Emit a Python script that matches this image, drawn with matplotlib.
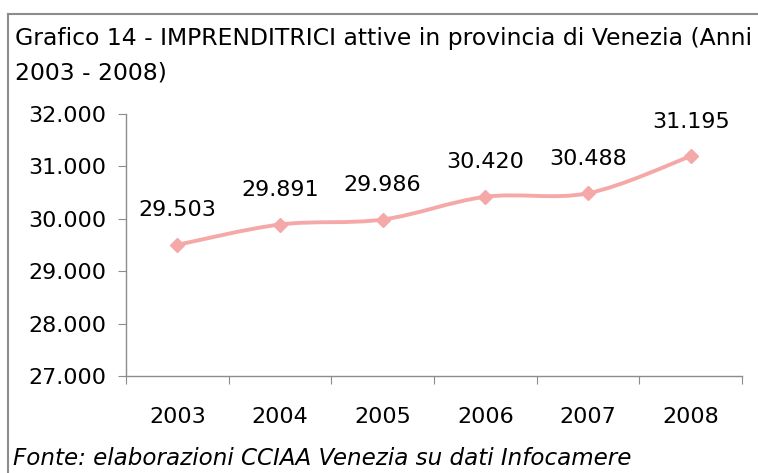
import matplotlib
matplotlib.use('Agg')
import matplotlib.pyplot as plt
from matplotlib.path import Path
from matplotlib.patches import PathPatch
from matplotlib.lines import Line2D

years = ['2003', '2004', '2005', '2006', '2007', '2008']
imprenditrici = [29503, 29891, 29986, 30420, 30488, 31195]
y_ticks = [27000, 28000, 29000, 30000, 31000, 32000]

title_lines = ['Grafico 14 - IMPRENDITRICI attive in provincia di Venezia (Anni',
               '2003 - 2008)']
source = 'Fonte: elaborazioni CCIAA Venezia su dati Infocamere'

pink = '#F5A8A8'
grey = '#8C8C8C'

plt.rcParams['font.family'] = ['DejaVu Sans']


def fmt(v):
    return f'{v:,.0f}'.replace(',', '.')


fig = plt.figure(figsize=(7.58, 4.73), dpi=100)
ax = fig.add_axes([126 / 758, 1 - 376 / 473, 616 / 758, 262 / 473])

# smoothed line like Excel (bezier segments between the data points)
xs = list(range(len(years)))
ys = imprenditrici
verts = [(xs[0], ys[0])]
codes = [Path.MOVETO]
for i in range(len(xs) - 1):
    x0, y0 = xs[max(i - 1, 0)], ys[max(i - 1, 0)]
    x1, y1 = xs[i], ys[i]
    x2, y2 = xs[i + 1], ys[i + 1]
    x3, y3 = xs[min(i + 2, len(xs) - 1)], ys[min(i + 2, len(xs) - 1)]
    verts += [(x1 + (x2 - x0) / 6, y1 + (y2 - y0) / 6),
              (x2 - (x3 - x1) / 6, y2 - (y3 - y1) / 6),
              (x2, y2)]
    codes += [Path.CURVE4] * 3
ax.add_patch(PathPatch(Path(verts, codes), facecolor='none', edgecolor=pink,
                       lw=2.8, capstyle='round'))
ax.plot(xs, ys, ls='none', marker='D', ms=7.5, color=pink, zorder=3)

for x, y in zip(xs, ys):
    ax.annotate(fmt(y), (x, y), xytext=(0, 20.5), textcoords='offset points',
                ha='center', va='baseline', fontsize=16)

ax.set_xlim(-0.5, len(years) - 0.5)
ax.set_ylim(27000, 32000)
ax.set_yticks(y_ticks)
ax.set_yticklabels([fmt(v) for v in y_ticks], fontsize=16)
ax.set_xticks([i - 0.5 for i in range(len(years) + 1)])
ax.set_xticklabels([])
ax.set_xticks(xs, minor=True)
ax.set_xticklabels(years, minor=True, fontsize=16)
ax.tick_params(axis='x', which='major', length=6, color=grey, direction='out')
ax.tick_params(axis='x', which='minor', length=0, pad=22)
ax.tick_params(axis='y', length=6, color=grey, pad=8)

for s in ['top', 'right']:
    ax.spines[s].set_visible(False)
for s in ['left', 'bottom']:
    ax.spines[s].set_color(grey)
    ax.spines[s].set_linewidth(1)

# chart frame
fig.add_artist(Line2D([8 / 758, 8 / 758], [0, 1 - 14 / 473], color=grey, lw=1.5,
                      transform=fig.transFigure))
fig.add_artist(Line2D([8 / 758, 1], [1 - 14 / 473, 1 - 14 / 473], color=grey, lw=1.5,
                      transform=fig.transFigure))

fig.text(15 / 758, 1 - 45 / 473, title_lines[0], ha='left', va='baseline',
         fontsize=16.9)
fig.text(15 / 758, 1 - 80 / 473, title_lines[1], ha='left', va='baseline',
         fontsize=16.9)
fig.text(13 / 758, 1 - 465 / 473, source, ha='left', va='baseline', fontsize=16.6,
         style='italic')

fig.savefig('out.png', dpi=100)
